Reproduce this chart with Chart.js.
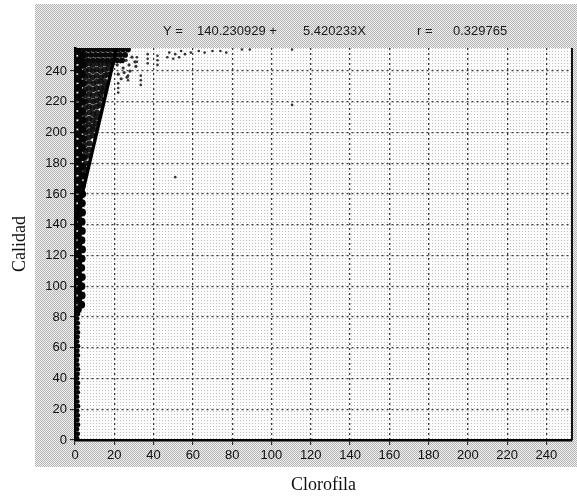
<!DOCTYPE html>
<html>
<head>
<meta charset="utf-8">
<script src="https://cdn.jsdelivr.net/npm/chart.js@4.4.1/dist/chart.umd.min.js"></script>
<style>
html, body { margin: 0; padding: 0; background: #fff; }
#wrap { width: 577px; height: 499px; }
</style>
</head>
<body>
<div id="wrap"><canvas id="chart" width="577" height="499"></canvas></div>
<script>
// ticks and labels
const xTicks = [0, 20, 40, 60, 80, 100, 120, 140, 160, 180, 200, 220, 240];
const yTicks = [0, 20, 40, 60, 80, 100, 120, 140, 160, 180, 200, 220, 240];
const headerLabels = ["Y =", "140.230929 +", "5.420233X", "r =", "0.329765"];

// fitted line Y = 140.230929 + 5.420233X, as drawn on the plot
const regressionLine = [[0, 140.23], [21.17, 255]];

// lower part of the dense strip along x = 0
const bandLow = [
    [1.1, 1], [1.4, 4], [1.0, 7], [1.5, 10], [1.2, 13], [1.4, 16], [1.1, 19], [1.5, 22],
    [1.2, 25], [1.0, 28], [1.4, 31], [1.2, 34], [1.5, 37], [1.1, 40], [1.3, 43], [1.5, 46],
    [1.2, 49], [1.0, 52], [1.4, 55], [1.2, 58], [1.5, 61], [1.1, 64], [1.3, 67], [1.5, 70],
    [1.2, 73], [1.4, 76], [1.1, 79], [1.5, 82]
];

// wider part of the strip, 85..255
const bandHigh = [
    [1.5, 85], [3.2, 88], [1.6, 91], [3.4, 94], [1.5, 97], [3.3, 100], [1.7, 103], [3.5, 106],
    [1.5, 109], [3.2, 112], [1.6, 115], [3.4, 118], [1.5, 121], [3.6, 124], [1.7, 127], [3.3, 130],
    [1.5, 133], [3.5, 136], [1.6, 139], [3.4, 142], [1.5, 145], [3.6, 148], [1.7, 151], [3.5, 154],
    [1.6, 157], [3.7, 160], [1.5, 163], [3.6, 166], [1.7, 169], [3.8, 172], [1.6, 175], [3.7, 178],
    [1.5, 181], [3.8, 184], [1.7, 187], [3.6, 190], [1.6, 193], [3.8, 196], [1.5, 199], [3.7, 202],
    [1.7, 205], [3.8, 208], [1.6, 211], [3.6, 214], [1.5, 217], [3.8, 220], [1.7, 223], [3.7, 226],
    [1.6, 229], [3.8, 232], [1.5, 235], [3.6, 238], [1.7, 241], [3.8, 244], [1.6, 247], [3.7, 250],
    [1.5, 253]
];

// wedge between the strip and the fitted line
const wedge = [
    [5.2, 172], [5.0, 176], [5.5, 180],
    [5.1, 184], [7.0, 185], [5.3, 188], [7.2, 189], [5.0, 192], [7.4, 193],
    [5.2, 196], [7.1, 197], [9.0, 198], [5.4, 200], [7.3, 201], [9.2, 202],
    [5.1, 204], [7.0, 205], [9.1, 204], [10.6, 206], [5.3, 208], [7.2, 209], [9.0, 208], [11.0, 210],
    [5.0, 212], [7.4, 213], [9.3, 212], [11.2, 213], [5.2, 216], [7.1, 217], [9.0, 216], [11.1, 217], [12.6, 218],
    [5.4, 220], [7.0, 221], [9.2, 220], [11.0, 221], [13.0, 222], [5.1, 224], [7.3, 225], [9.0, 224], [11.3, 225], [13.1, 225], [14.2, 227],
    [5.3, 228], [7.1, 229], [9.1, 228], [11.0, 229], [13.2, 229], [15.0, 230], [5.0, 232], [7.2, 233], [9.3, 232], [11.2, 233], [13.0, 233], [15.2, 233],
    [5.2, 236], [7.0, 237], [9.0, 236], [11.1, 237], [13.3, 236], [15.1, 237], [16.5, 238],
    [5.4, 240], [7.3, 241], [9.2, 240], [11.0, 241], [13.1, 240], [15.0, 241], [17.0, 242],
    [5.1, 244], [7.1, 245], [9.0, 244], [11.2, 245], [13.0, 244], [15.2, 245], [17.1, 245], [18.3, 246]
];

// dark row along the top edge
const topRow = [
    [2.0, 254], [4.5, 254], [7.0, 254], [9.5, 254], [12.0, 254], [14.5, 254], [17.0, 254], [19.5, 254], [22.0, 254], [24.5, 254], [27.0, 254],
    [3.0, 250.5], [5.5, 250.5], [8.0, 250.5], [10.5, 250.5], [13.0, 250.5], [15.5, 250.5], [18.0, 250.5], [20.5, 250.5], [23.0, 250.5], [25.5, 250.5],
    [4.0, 247], [6.5, 247], [9.0, 247], [11.5, 247], [14.0, 247], [16.5, 247], [19.0, 247], [21.5, 247], [24.0, 247]
];

// looser points just right of the line
const nearLine = [
    [21.5, 244], [23.0, 246], [24.5, 242], [26.0, 247], [27.5, 244], [29.0, 249], [30.5, 246],
    [22.0, 238], [25.0, 239], [28.0, 240], [31.0, 243], [23.5, 235], [26.5, 236]
];

// scattered points further out
const sparse = [
    [22, 226], [22, 229], [22, 232], [27, 234], [27, 237], [33.5, 231], [33.5, 234], [33.5, 237],
    [31.5, 246], [31.5, 249], [37, 245], [37, 248], [37, 251], [42, 244], [42, 247], [42, 250],
    [47, 249], [48, 252], [50, 248], [51, 251], [53, 249], [54, 253], [56, 251], [59, 252],
    [63, 253], [66, 252], [70, 253], [74, 253], [77, 252], [85, 254], [89, 254],
    [110.5, 254], [110.5, 218], [51, 171]
];

const toXY = (pairs) => pairs.map(([x, y]) => ({ x, y }));

function makePattern(size, bg, dots) {
    const c = document.createElement("canvas");
    c.width = size;
    c.height = size;
    const g = c.getContext("2d");
    g.fillStyle = bg;
    g.fillRect(0, 0, size, size);
    dots.forEach(([dx, dy, col]) => {
        g.fillStyle = col;
        g.fillRect(dx, dy, 1, 1);
    });
    return c;
}

const panelTile = makePattern(2, "#f0f0f0", [[0, 0, "#b4b4b4"], [1, 1, "#b4b4b4"]]);
const plotTile = makePattern(3, "#fcfcfc", [[0, 0, "#c0c0c0"]]);

const backdrop = {
    id: "backdrop",
    beforeDraw(chart) {
        const { ctx, chartArea: a } = chart;
        ctx.save();
        ctx.fillStyle = ctx.createPattern(panelTile, "repeat");
        ctx.fillRect(35, 4, 542, 463);
        ctx.fillStyle = ctx.createPattern(plotTile, "repeat");
        ctx.fillRect(a.left, a.top, a.right - a.left, a.bottom - a.top);
        ctx.fillStyle = "#1a1a1a";
        ctx.font = '13px "Liberation Sans", Arial, sans-serif';
        ctx.textBaseline = "middle";
        const xs = [163, 197, 303, 417, 453];
        headerLabels.forEach((t, i) => ctx.fillText(t, xs[i], 31));
        ctx.restore();
    },
    afterDraw(chart) {
        const { ctx, chartArea: a } = chart;
        ctx.save();
        ctx.strokeStyle = "#111";
        ctx.lineWidth = 2;
        ctx.beginPath();
        ctx.moveTo(a.right, a.top);
        ctx.lineTo(a.right, a.bottom);
        ctx.stroke();
        ctx.restore();
    }
};

const tickFont = { family: '"Liberation Sans", Arial, sans-serif', size: 13 };
const titleFont = { family: '"Liberation Serif", "Times New Roman", serif', size: 18 };

function dots(data, radius, color) {
    return {
        type: "scatter",
        data: toXY(data),
        pointRadius: radius,
        pointHoverRadius: radius,
        pointBorderWidth: 0,
        pointBackgroundColor: color,
        order: 2
    };
}

new Chart(document.getElementById("chart").getContext("2d"), {
    data: {
        datasets: [
            {
                type: "line",
                data: toXY(regressionLine),
                borderColor: "#000",
                borderWidth: 3.5,
                pointRadius: 0,
                order: 0
            },
            dots(bandLow, 2.4, "#050505"),
            dots(bandHigh, 3.9, "#050505"),
            dots(wedge, 3.0, "rgba(12,12,12,0.92)"),
            dots(topRow, 2.9, "#0a0a0a"),
            dots(nearLine, 1.6, "#333"),
            dots(sparse, 1.3, "#333")
        ]
    },
    options: {
        responsive: false,
        animation: false,
        events: [],
        layout: { padding: { top: 48, right: 5, left: 0, bottom: 0 } },
        plugins: { legend: { display: false }, tooltip: { enabled: false }, title: { display: false } },
        scales: {
            x: {
                type: "linear",
                min: 0,
                max: 253,
                afterFit: (s) => { s.height = 59; },
                afterBuildTicks: (s) => { s.ticks = xTicks.map((v) => ({ value: v })); },
                grid: { color: "#3a3a3a", lineWidth: 1.3, tickLength: 5, tickColor: "#111", tickWidth: 1, tickBorderDash: [] },
                border: { display: true, color: "#000", width: 2.5, dash: [2, 3] },
                ticks: { color: "#111", font: tickFont, padding: 3, maxRotation: 0, autoSkip: false },
                title: { display: true, text: "Clorofila", color: "#111", font: titleFont, padding: { top: 0, bottom: 3 } }
            },
            y: {
                type: "linear",
                min: 0,
                max: 255,
                afterFit: (s) => { s.width = 75; },
                afterBuildTicks: (s) => { s.ticks = yTicks.map((v) => ({ value: v })); },
                grid: { color: "#3a3a3a", lineWidth: 1.3, tickLength: 5, tickColor: "#111", tickWidth: 1, tickBorderDash: [] },
                border: { display: true, color: "#000", width: 2.5, dash: [2, 3] },
                ticks: { color: "#111", font: tickFont, padding: 3, autoSkip: false },
                title: { display: true, text: "Calidad", color: "#111", font: titleFont, padding: { top: 9, bottom: 0 } }
            }
        }
    },
    plugins: [backdrop]
});
</script>
</body>
</html>
